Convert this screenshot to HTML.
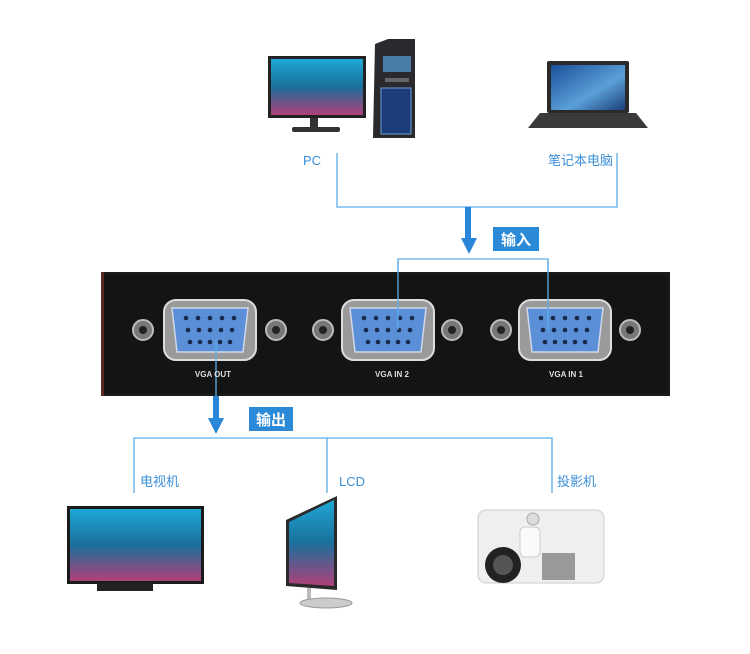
<!DOCTYPE html>
<html><head><meta charset="utf-8"><style>
html,body{margin:0;padding:0;background:#fff;width:750px;height:654px;overflow:hidden}
svg{display:block}
text{font-family:"Liberation Sans","Noto Sans CJK SC",sans-serif}
</style></head><body>
<svg width="750" height="654" viewBox="0 0 750 654" xmlns="http://www.w3.org/2000/svg">
<defs>
<linearGradient id="sea" x1="0" y1="0" x2="0" y2="1"><stop offset="0" stop-color="#1fa8d8"/><stop offset="0.5" stop-color="#1a6f9a"/><stop offset="1" stop-color="#b0407a"/></linearGradient>
<linearGradient id="lap" x1="0" y1="0" x2="1" y2="1"><stop offset="0" stop-color="#1b4f9a"/><stop offset="0.6" stop-color="#5aa0d8"/><stop offset="1" stop-color="#1c3f7a"/></linearGradient>
<g id="vga">
<rect x="-46" y="-30" width="92" height="60" rx="12" fill="#9a9a9a" stroke="#ddd" stroke-width="2"/>
<path d="M-38 -22 H38 L33 22 H-33 Z" fill="#5b8fd8" stroke="#cfd8e8" stroke-width="1.5"/>
<g fill="#1a2a4a"><circle cx="-24" cy="-12" r="2.3"/><circle cx="-12" cy="-12" r="2.3"/><circle cx="0" cy="-12" r="2.3"/><circle cx="12" cy="-12" r="2.3"/><circle cx="24" cy="-12" r="2.3"/>
<circle cx="-22" cy="0" r="2.3"/><circle cx="-11" cy="0" r="2.3"/><circle cx="0" cy="0" r="2.3"/><circle cx="11" cy="0" r="2.3"/><circle cx="22" cy="0" r="2.3"/>
<circle cx="-20" cy="12" r="2.3"/><circle cx="-10" cy="12" r="2.3"/><circle cx="0" cy="12" r="2.3"/><circle cx="10" cy="12" r="2.3"/><circle cx="20" cy="12" r="2.3"/></g>
</g>
<g id="screw"><circle r="10" fill="#777" stroke="#bbb" stroke-width="2"/><circle r="4" fill="#222"/></g>
</defs>

<rect x="268" y="56" width="98" height="62" fill="#222"/>
<rect x="271" y="59" width="92" height="56" fill="url(#sea)"/>
<rect x="310" y="118" width="8" height="10" fill="#333"/>
<rect x="292" y="127" width="48" height="5" rx="2" fill="#333"/>
<path d="M375 44 L388 39 H415 V138 H373 Z" fill="#2a2a2e"/>
<rect x="383" y="56" width="28" height="16" fill="#4a7ea8"/>
<rect x="385" y="78" width="24" height="4" fill="#666"/>
<rect x="381" y="88" width="30" height="46" fill="#1c3c7a" stroke="#6aa0d0"/>
<rect x="547" y="61" width="82" height="52" rx="2" fill="#2a2a2a"/>
<rect x="551" y="65" width="74" height="45" fill="url(#lap)"/>
<path d="M540 113 H636 L648 128 H528 Z" fill="#3a3a3a"/>

<g font-size="13" fill="#3a8fd8">
<text x="303" y="165">PC</text>
<text x="548" y="165">笔记本电脑</text>
<text x="140" y="486">电视机</text>
<text x="339" y="486">LCD</text>
<text x="557" y="486">投影机</text>
</g>

<g stroke="#5aaee8" stroke-width="1.3" fill="none">
<path d="M337 153 V207 H617 V153"/>
<path d="M468 207 V240"/>
<path d="M398 340 V259 H548 V340"/>
<path d="M216 340 V420"/>
<path d="M134 493 V438 H552 V493"/>
<path d="M327 438 V493"/>
</g>
<rect x="465" y="207" width="6" height="32" fill="#2a86d8"/>
<path d="M461 238 H477 L469 254 Z" fill="#2a86d8"/>
<rect x="213" y="396" width="6" height="24" fill="#2a86d8"/>
<path d="M208 418 H224 L216 434 Z" fill="#2a86d8"/>
<rect x="493" y="227" width="46" height="24" fill="#2a8ad8"/>
<text x="516" y="245" font-size="15" font-weight="bold" fill="#fff" text-anchor="middle">输入</text>
<rect x="249" y="407" width="44" height="24" fill="#2a8ad8"/>
<text x="271" y="425" font-size="15" font-weight="bold" fill="#fff" text-anchor="middle">输出</text>

<rect x="103" y="272" width="567" height="124" fill="#1a1a1a"/>
<rect x="101" y="272" width="3" height="124" fill="#5a2a22"/>
<rect x="104" y="275" width="563" height="118" fill="#141414"/>
<use href="#screw" x="143" y="330"/><use href="#screw" x="276" y="330"/>
<use href="#screw" x="323" y="330"/><use href="#screw" x="452" y="330"/>
<use href="#screw" x="501" y="330"/><use href="#screw" x="630" y="330"/>
<use href="#vga" x="210" y="330"/>
<use href="#vga" x="388" y="330"/>
<use href="#vga" x="565" y="330"/>
<path d="M216 340 V396 M398 259 V330 M548 259 V330" stroke="#5aaee8" stroke-width="1.3"/>
<g font-size="8" font-weight="bold" fill="#ddd" text-anchor="middle">
<text x="213" y="377">VGA OUT</text><text x="392" y="377">VGA IN 2</text><text x="566" y="377">VGA IN 1</text>
</g>

<rect x="67" y="506" width="137" height="78" fill="#1a1a1a"/>
<rect x="70" y="509" width="131" height="72" fill="url(#sea)"/>
<rect x="97" y="583" width="56" height="8" fill="#222"/>
<path d="M286 520 L337 496 V590 L286 586 Z" fill="#2a2a2a"/>
<path d="M289 522 L334 500 V586 L289 583 Z" fill="url(#sea)"/>
<rect x="307" y="588" width="4" height="12" fill="#bbb"/>
<ellipse cx="326" cy="603" rx="26" ry="5" fill="#ccc" stroke="#999"/>
<rect x="478" y="510" width="126" height="73" rx="8" fill="#efefef" stroke="#ccc"/>
<rect x="520" y="527" width="20" height="30" rx="5" fill="#fafafa" stroke="#ccc"/>
<circle cx="503" cy="565" r="18" fill="#222"/><circle cx="503" cy="565" r="10" fill="#555"/>
<rect x="542" y="553" width="33" height="27" fill="#999"/>
<circle cx="533" cy="519" r="6" fill="#ddd" stroke="#aaa"/>
</svg>
</body></html>
